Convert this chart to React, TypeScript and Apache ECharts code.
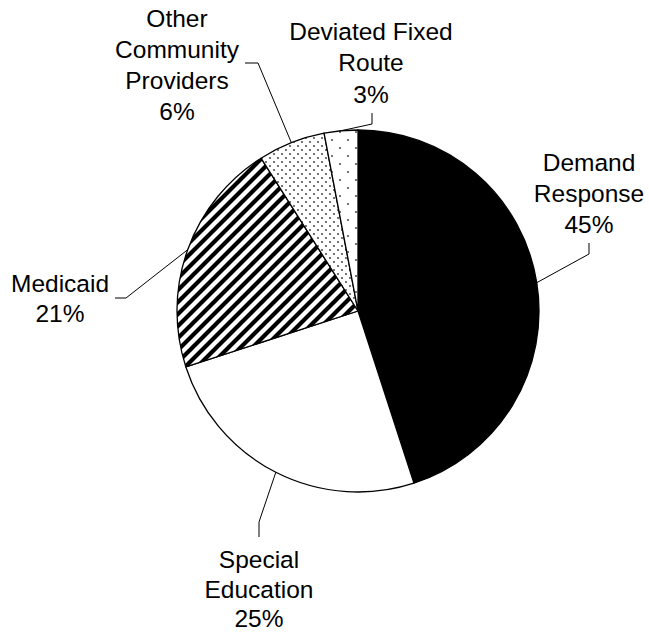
import React, { useEffect, useRef } from 'react';
import * as echarts from 'echarts';

// ---- data ----
const categories = [
  'Demand\nResponse',
  'Special\nEducation',
  'Medicaid',
  'Other\nCommunity\nProviders',
  'Deviated Fixed\nRoute',
];
const shares = [45, 25, 21, 6, 3];

// ---- layout (label anchors and leader elbows, in px) ----
const labelSpots: { x: number; y: number; lh: number; elbow: number[]; end: number[] }[] = [
  { x: 589, y: 193, lh: 31, elbow: [589, 254], end: [589, 243] },
  { x: 259, y: 589, lh: 29.5, elbow: [259, 522], end: [259, 537] },
  { x: 60, y: 298, lh: 30, elbow: [126, 298], end: [115, 298] },
  { x: 177, y: 64.5, lh: 31, elbow: [258, 63], end: [245, 63] },
  { x: 371, y: 62.5, lh: 31.5, elbow: [372, 124], end: [372, 113] },
];

function tile(w: number, h: number, draw: (ctx: CanvasRenderingContext2D) => void) {
  const c = document.createElement('canvas');
  c.width = w;
  c.height = h;
  const ctx = c.getContext('2d') as CanvasRenderingContext2D;
  ctx.fillStyle = '#ffffff';
  ctx.fillRect(0, 0, w, h);
  draw(ctx);
  return c;
}

function stripes() {
  return tile(12, 12, (ctx) => {
    ctx.strokeStyle = '#000';
    ctx.lineWidth = 4.2;
    ctx.beginPath();
    for (const k of [-12, 0, 12]) {
      ctx.moveTo(k - 2, 14);
      ctx.lineTo(k + 14, -2);
    }
    ctx.stroke();
  });
}

function dots(size: number, r: number, color: string) {
  return tile(size, size, (ctx) => {
    ctx.fillStyle = color;
    const pts = [
      [size / 4, size / 4],
      [(3 * size) / 4, (3 * size) / 4],
    ];
    for (const [x, y] of pts) {
      ctx.beginPath();
      ctx.arc(x, y, r, 0, Math.PI * 2);
      ctx.fill();
    }
  });
}

export default function App() {
  const ref = useRef<HTMLDivElement>(null);

  useEffect(() => {
    if (!ref.current) return;
    const chart = echarts.init(ref.current, undefined, { renderer: 'svg' });

    const fills: any[] = [
      '#000000',
      '#ffffff',
      { image: stripes(), repeat: 'repeat' },
      { image: dots(8, 0.9, '#333'), repeat: 'repeat' },
      { image: dots(16, 0.9, '#333'), repeat: 'repeat' },
    ];

    chart.setOption({
      animation: false,
      backgroundColor: '#ffffff',
      series: [
        {
          type: 'pie',
          center: [358, 311],
          radius: 181,
          startAngle: 90,
          clockwise: true,
          avoidLabelOverlap: false,
          silent: true,
          emphasis: { disabled: true },
          itemStyle: { borderColor: '#000', borderWidth: 1.3 },
          data: categories.map((name, i) => ({
            name,
            value: shares[i],
            itemStyle: { color: fills[i] },
            label: { lineHeight: labelSpots[i].lh },
          })),
          label: {
            show: true,
            position: 'outside',
            formatter: (p: any) => `${p.name}\n${p.value}%`,
            fontFamily: 'Liberation Sans, Arial, sans-serif',
            fontSize: 24.5,
            lineHeight: 31,
            color: '#000',
            width: 240,
            overflow: 'none',
            align: 'center',
          },
          labelLine: {
            show: true,
            length: 10,
            length2: 10,
            lineStyle: { color: '#000', width: 1 },
          },
          labelLayout: (params: any) => {
            const s = labelSpots[params.dataIndex];
            const start = params.labelLinePoints ? params.labelLinePoints[0] : s.elbow;
            return {
              x: s.x,
              y: s.y,
              align: 'center',
              verticalAlign: 'middle',
              labelLinePoints: [start, s.elbow, s.end],
            };
          },
        },
      ],
    });

    return () => chart.dispose();
  }, []);

  return (
    <div
      ref={ref}
      style={{ position: 'fixed', left: 0, top: 0, width: 649, height: 635 }}
    />
  );
}
